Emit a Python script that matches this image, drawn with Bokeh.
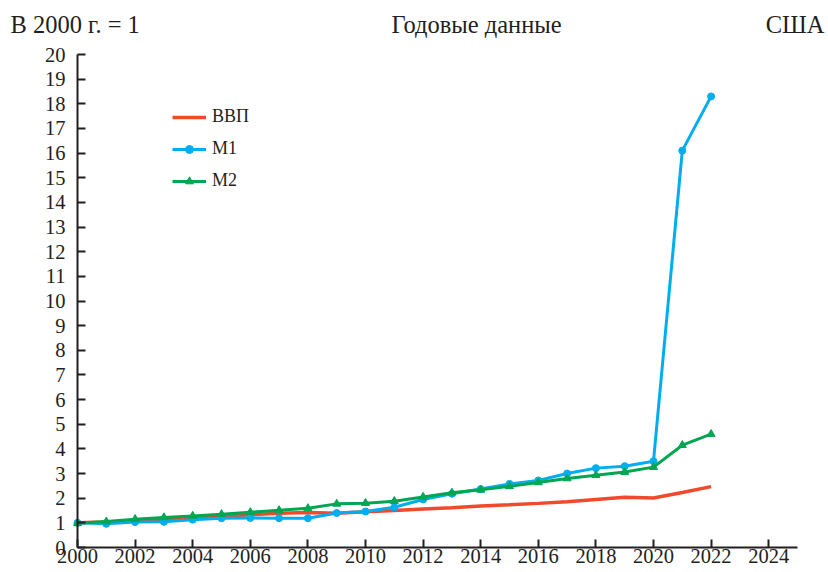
from bokeh.plotting import figure
from bokeh.models import FixedTicker, Label, Range1d
from bokeh.embed import file_html
from bokeh.resources import INLINE

years = list(range(2000, 2023))
gdp = [1.0, 1.03, 1.07, 1.12, 1.19, 1.26, 1.33, 1.39, 1.42, 1.39, 1.45, 1.50,
       1.56, 1.61, 1.68, 1.73, 1.79, 1.86, 1.95, 2.04, 2.01, 2.23, 2.47]
m1 = [1.0, 0.96, 1.03, 1.04, 1.13, 1.19, 1.20, 1.19, 1.19, 1.40, 1.46, 1.63,
      1.95, 2.18, 2.37, 2.58, 2.72, 3.0, 3.22, 3.30, 3.5, 16.1, 18.3]
m2 = [0.98, 1.05, 1.15, 1.22, 1.28, 1.35, 1.43, 1.51, 1.59, 1.77, 1.80, 1.88,
      2.05, 2.22, 2.34, 2.48, 2.64, 2.80, 2.93, 3.06, 3.26, 4.15, 4.60]

series_names = ["ВВП", "M1", "M2"]
header_texts = ["В 2000 г. = 1", "Годовые данные", "США"]
y_ticks = list(range(0, 21))
x_ticks = list(range(2000, 2025, 2))

FONT = "Liberation Serif"
DARK = "#231F20"
RED = "#EE4A2B"
BLUE = "#00AEEF"
GREEN = "#00A651"

W, H = 828, 572
# pixel geometry of the axes box inside the canvas
X0_PX, PX_PER_YEAR = 77, 28.8
Y0_PX, PX_PER_UNIT = 547, 24.65

x_start = 2000 - X0_PX / PX_PER_YEAR
x_end = x_start + W / PX_PER_YEAR
y_start = -(H - Y0_PX) / PX_PER_UNIT
y_end = y_start + H / PX_PER_UNIT


def px_to_x(px):
    return x_start + px / PX_PER_YEAR


def py_to_y(py):
    return y_end - py / PX_PER_UNIT


p = figure(width=W, height=H, output_backend="svg", toolbar_location=None,
           x_range=Range1d(x_start, x_end), y_range=Range1d(y_start, y_end),
           min_border=0, min_border_left=0, min_border_right=0,
           min_border_top=0, min_border_bottom=0)
p.outline_line_color = None
p.xgrid.visible = False
p.ygrid.visible = False
p.background_fill_color = "white"
p.border_fill_color = "white"

p.line(years, gdp, line_color=RED, line_width=3.5, legend_label=series_names[0])
p.line(years, m1, line_color=BLUE, line_width=3, legend_label=series_names[1])
p.scatter(years, m1, marker="circle", size=7, fill_color=BLUE, line_color=BLUE,
          legend_label=series_names[1])
p.line(years, m2, line_color=GREEN, line_width=3, legend_label=series_names[2])
p.scatter(years, m2, marker="triangle", size=8, fill_color=GREEN, line_color=GREEN,
          legend_label=series_names[2])

for ax in (p.xaxis[0], p.yaxis[0]):
    ax.axis_line_color = DARK
    ax.axis_line_width = 2
    ax.major_tick_line_color = DARK
    ax.major_tick_line_width = 2
    ax.major_tick_out = 0
    ax.major_tick_in = 8
    ax.minor_tick_line_color = None
    ax.major_label_text_font = FONT
    ax.major_label_text_font_size = "20.5px"
    ax.major_label_text_color = DARK

p.xaxis.ticker = FixedTicker(ticks=x_ticks)
p.yaxis.ticker = FixedTicker(ticks=y_ticks)
p.xaxis.bounds = (2000, 2025)
p.yaxis.bounds = (0, 20)
p.xaxis.fixed_location = 0
p.yaxis.fixed_location = 2000
p.xaxis.major_label_standoff = 1
p.yaxis.major_label_standoff = 12

leg = p.legend[0]
leg.location = (172, H - 191)
leg.border_line_color = None
leg.background_fill_alpha = 0
leg.padding = 0
leg.margin = 0
leg.spacing = 11
leg.glyph_width = 34
leg.glyph_height = 20
leg.label_height = 20
leg.label_standoff = 6
leg.label_text_font = FONT
leg.label_text_font_size = "18px"
leg.label_text_color = DARK

for text, px, align in zip(header_texts, [10, 476, 824], ["left", "center", "right"]):
    p.add_layout(Label(x=px_to_x(px), y=py_to_y(24), text=text, text_font=FONT,
                       text_font_size="24.5px", text_color=DARK,
                       text_align=align, text_baseline="middle"))

open("out.html", "w").write(file_html(p, INLINE))
